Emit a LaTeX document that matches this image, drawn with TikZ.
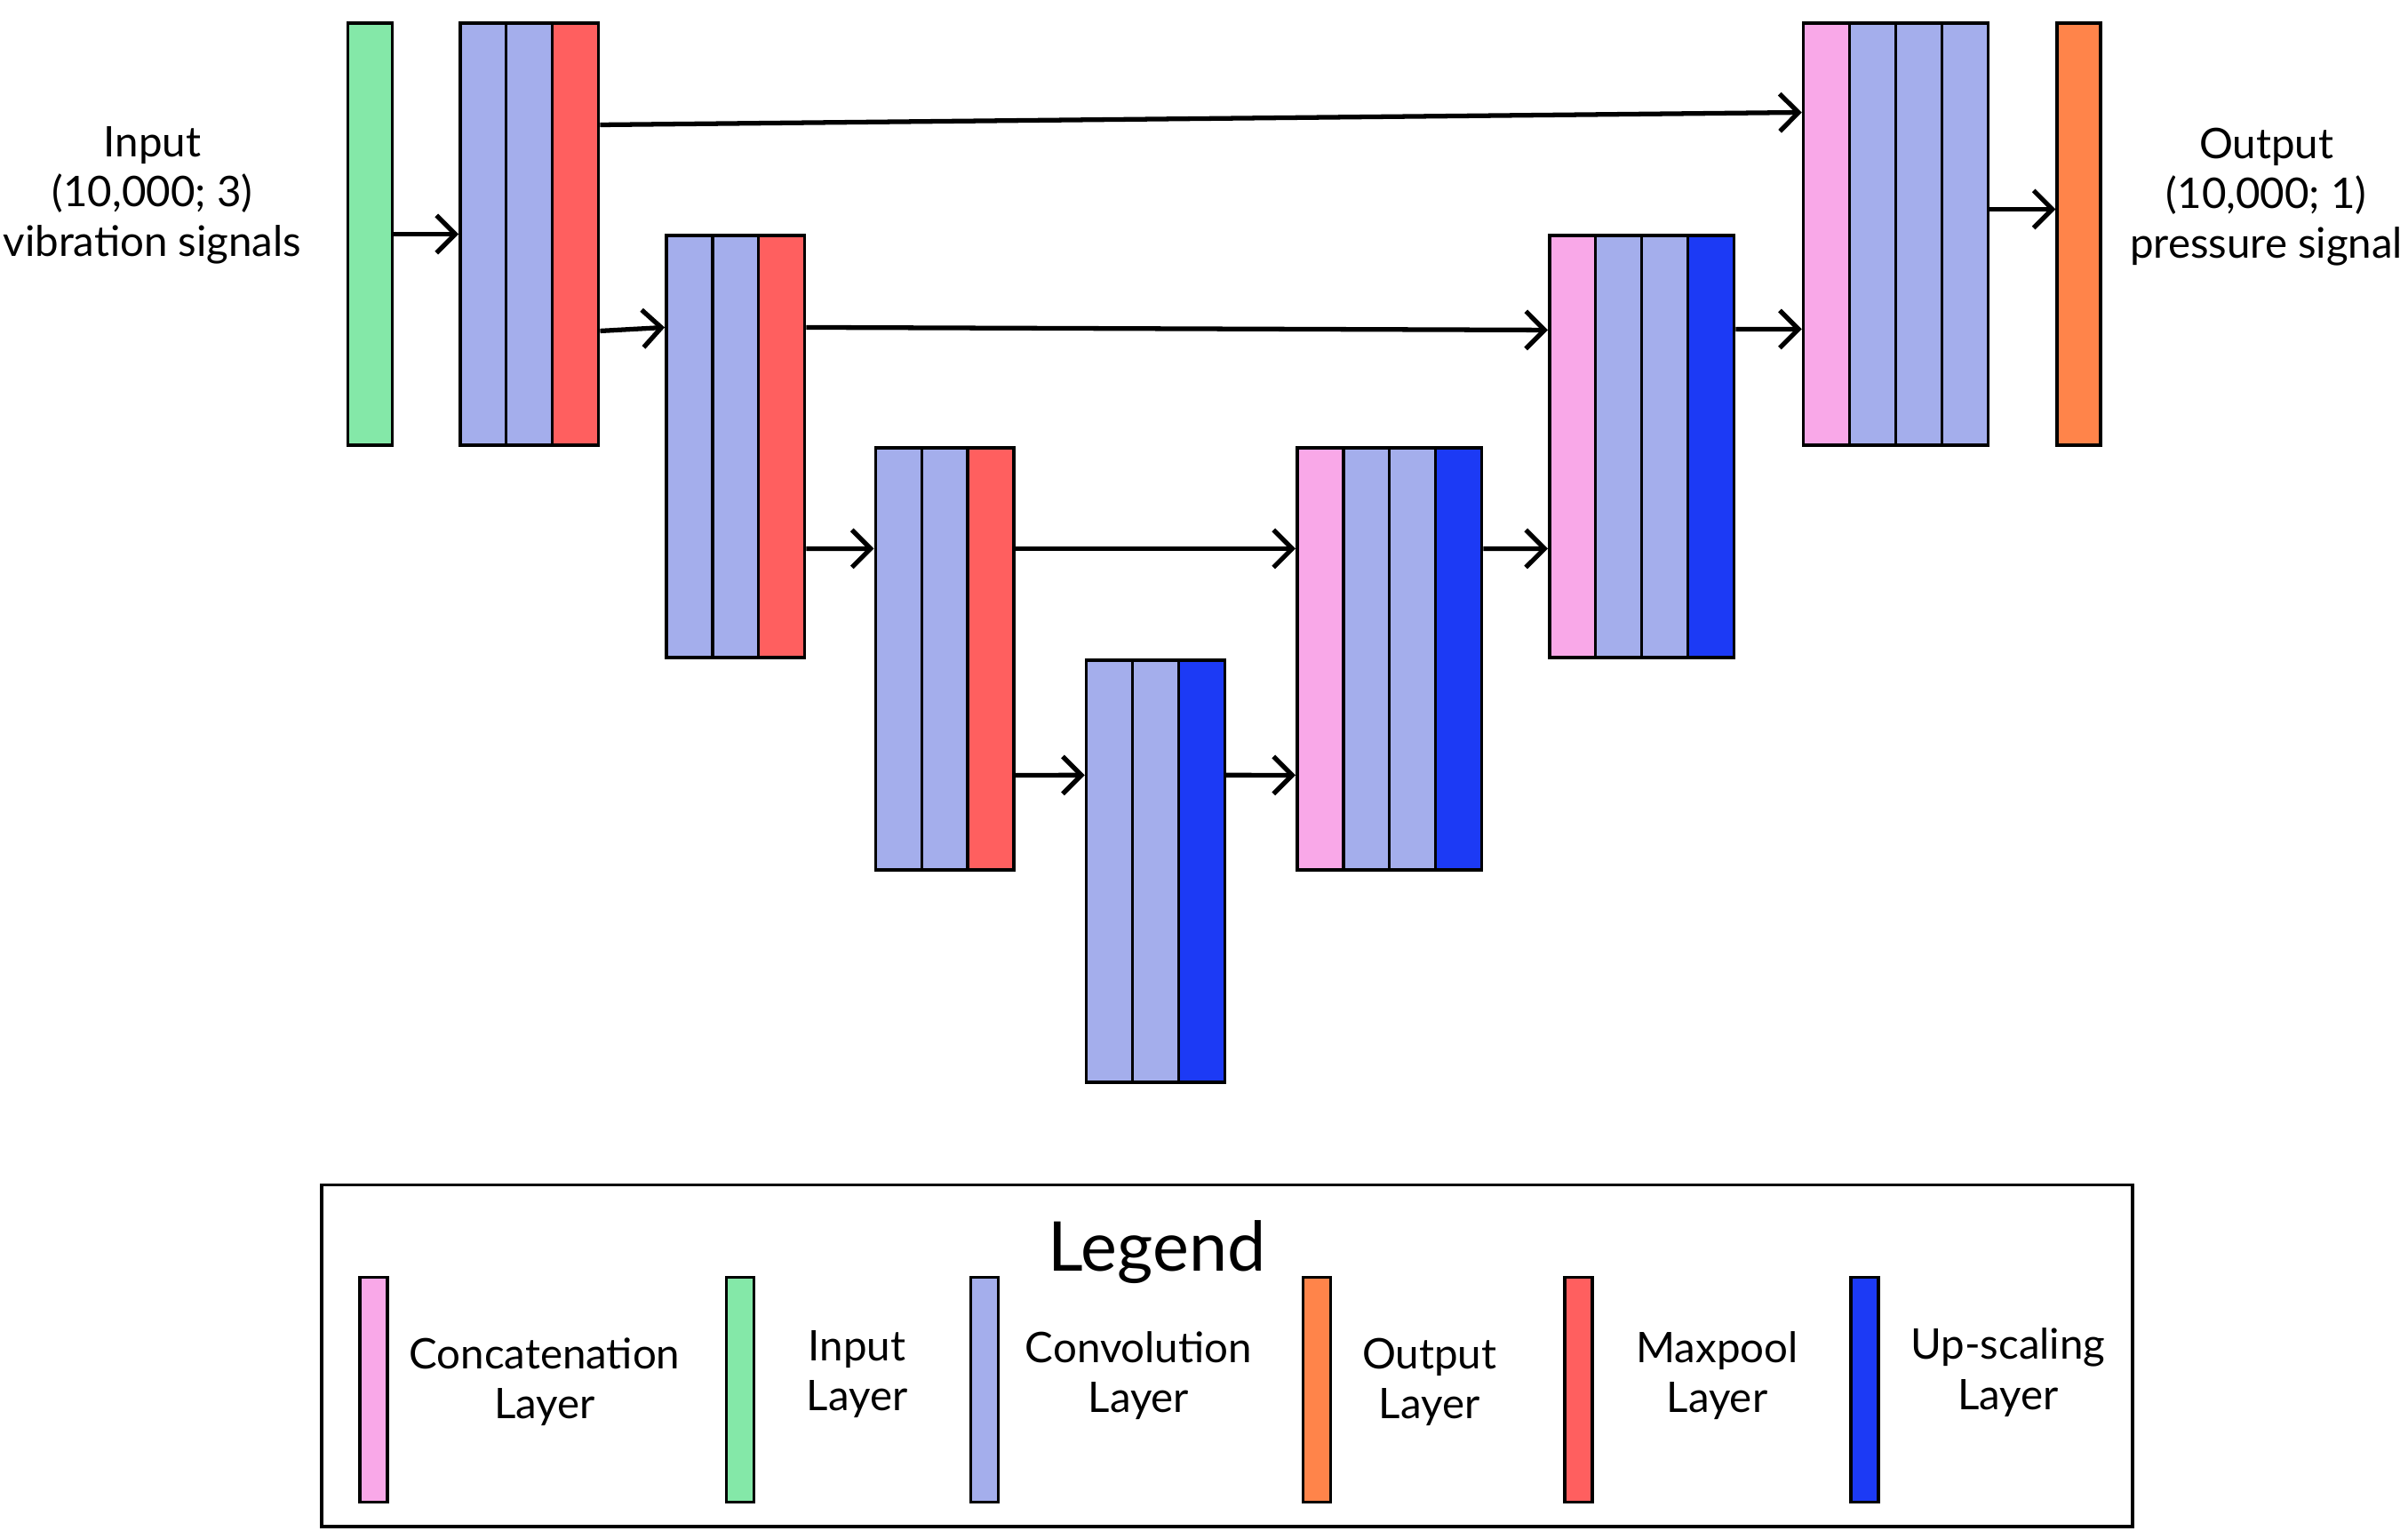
\documentclass[tikz,border=0pt]{standalone}
\usepackage{fontspec}
\setmainfont{Lato}
\usetikzlibrary{arrows.meta}
\definecolor{convc}{HTML}{A4AEEC}
\definecolor{poolc}{HTML}{FF5F5F}
\definecolor{upc}{HTML}{1C3AF5}
\definecolor{catc}{HTML}{F9A8E8}
\definecolor{inc}{HTML}{84E8A8}
\definecolor{outc}{HTML}{FF844A}
\begin{document}
\begin{tikzpicture}[x=0.017316cm, y=-0.017316cm,
  strip/.style={draw, line width=1pt, minimum width=0.52cm, minimum height=4.75cm, inner sep=0pt, anchor=north west},
  lstrip/.style={draw, line width=1pt, minimum width=0.31cm, minimum height=2.53cm, inner sep=0pt, anchor=north west},
  conn/.style={line width=1.5pt, -{Straight Barb[length=6pt,width=12pt,line width=1.5pt]}},
  lbl/.style={align=center, font=\fontsize{13.5}{16}\selectfont}]
\useasboundingbox (0,0) rectangle (1565,1000);
% input / output
\node[strip, fill=inc, minimum width=0.5cm] (in) at (225,14) {};
\node[strip, fill=outc, minimum width=0.49cm] (out) at (1336,14) {};
% encoder
\node[strip, fill=convc] (b1a) at (298,14) {};
\node[strip, fill=convc] (b1b) at (328,14) {};
\node[strip, fill=poolc] (b1r) at (358,14) {};
\node[strip, fill=convc] (b2a) at (432,152) {};
\node[strip, fill=convc] (b2b) at (462,152) {};
\node[strip, fill=poolc] (b2r) at (492,152) {};
\node[strip, fill=convc] (b3a) at (568,290) {};
\node[strip, fill=convc] (b3b) at (598,290) {};
\node[strip, fill=poolc] (b3r) at (628,290) {};
\node[strip, fill=convc] (b4a) at (705,428) {};
\node[strip, fill=convc] (b4b) at (735,428) {};
\node[strip, fill=upc] (b4r) at (765,428) {};
% decoder
\node[strip, fill=catc] (b5p) at (842,290) {};
\node[strip, fill=convc] at (872,290) {};
\node[strip, fill=convc] at (902,290) {};
\node[strip, fill=upc] (b5b) at (932,290) {};
\node[strip, fill=catc] (b6p) at (1006,152) {};
\node[strip, fill=convc] at (1036,152) {};
\node[strip, fill=convc] at (1066,152) {};
\node[strip, fill=upc] (b6b) at (1096,152) {};
\node[strip, fill=catc] (b7p) at (1171,14) {};
\node[strip, fill=convc] at (1201,14) {};
\node[strip, fill=convc] at (1231,14) {};
\node[strip, fill=convc] (b7c) at (1261,14) {};
% texts
\node[lbl] (intxt) at (99,127) {Input\\(10,000; 3)\\vibration signals};
\node[lbl] (outtxt) at (1473,128) {Output\\(10,000; 1)\\pressure signal};
% connectors
\draw[conn] (in.east) -- (b1a.west);
\draw[conn] ([yshift=1.23cm]b1r.east) -- ([yshift=1.37cm]b7p.west);
\draw[conn] ([yshift=-1.09cm]b1r.east) -- ([yshift=1.34cm]b2a.west);
\draw[conn] ([yshift=1.34cm]b2r.east) -- ([yshift=1.31cm]b6p.west);
\draw[conn] ([yshift=-1.15cm]b2r.east) -- ([yshift=1.24cm]b3a.west);
\draw[conn] ([yshift=1.24cm]b3r.east) -- ([yshift=1.24cm]b5p.west);
\draw[conn] ([yshift=-1.31cm]b3r.east) -- ([yshift=1.08cm]b4a.west);
\draw[conn] ([yshift=1.08cm]b4r.east) -- ([yshift=-1.31cm]b5p.west);
\draw[conn] ([yshift=1.24cm]b5b.east) -- ([yshift=-1.15cm]b6p.west);
\draw[conn] ([yshift=1.32cm]b6b.east) -- ([yshift=-1.07cm]b7p.west);
\draw[conn] ([yshift=0.28cm]b7c.east) -- ([yshift=0.28cm]out.west);
% legend
\draw[line width=1pt] (209,770) rectangle (1386,992);
\node[font=\fontsize{22}{26}\selectfont] (leg) at (752,814) {Legend};
\node[lstrip, fill=catc] (l1) at (233,829) {};
\node[lstrip, fill=inc] (l2) at (471,829) {};
\node[lstrip, fill=convc] (l3) at (630,829) {};
\node[lstrip, fill=outc] (l4) at (846,829) {};
\node[lstrip, fill=poolc] (l5) at (1016,829) {};
\node[lstrip, fill=upc] (l6) at (1202,829) {};
\node[lbl] (t1) at (354,898) {Concatenation\\Layer};
\node[lbl] (t2) at (557,893) {Input\\Layer};
\node[lbl] (t3) at (740,894) {Convolution\\Layer};
\node[lbl] (t4) at (929,898) {Output\\Layer};
\node[lbl] (t5) at (1116,894) {Maxpool\\Layer};
\node[lbl] (t6) at (1305,892) {Up-scaling\\Layer};
\end{tikzpicture}
\end{document}
